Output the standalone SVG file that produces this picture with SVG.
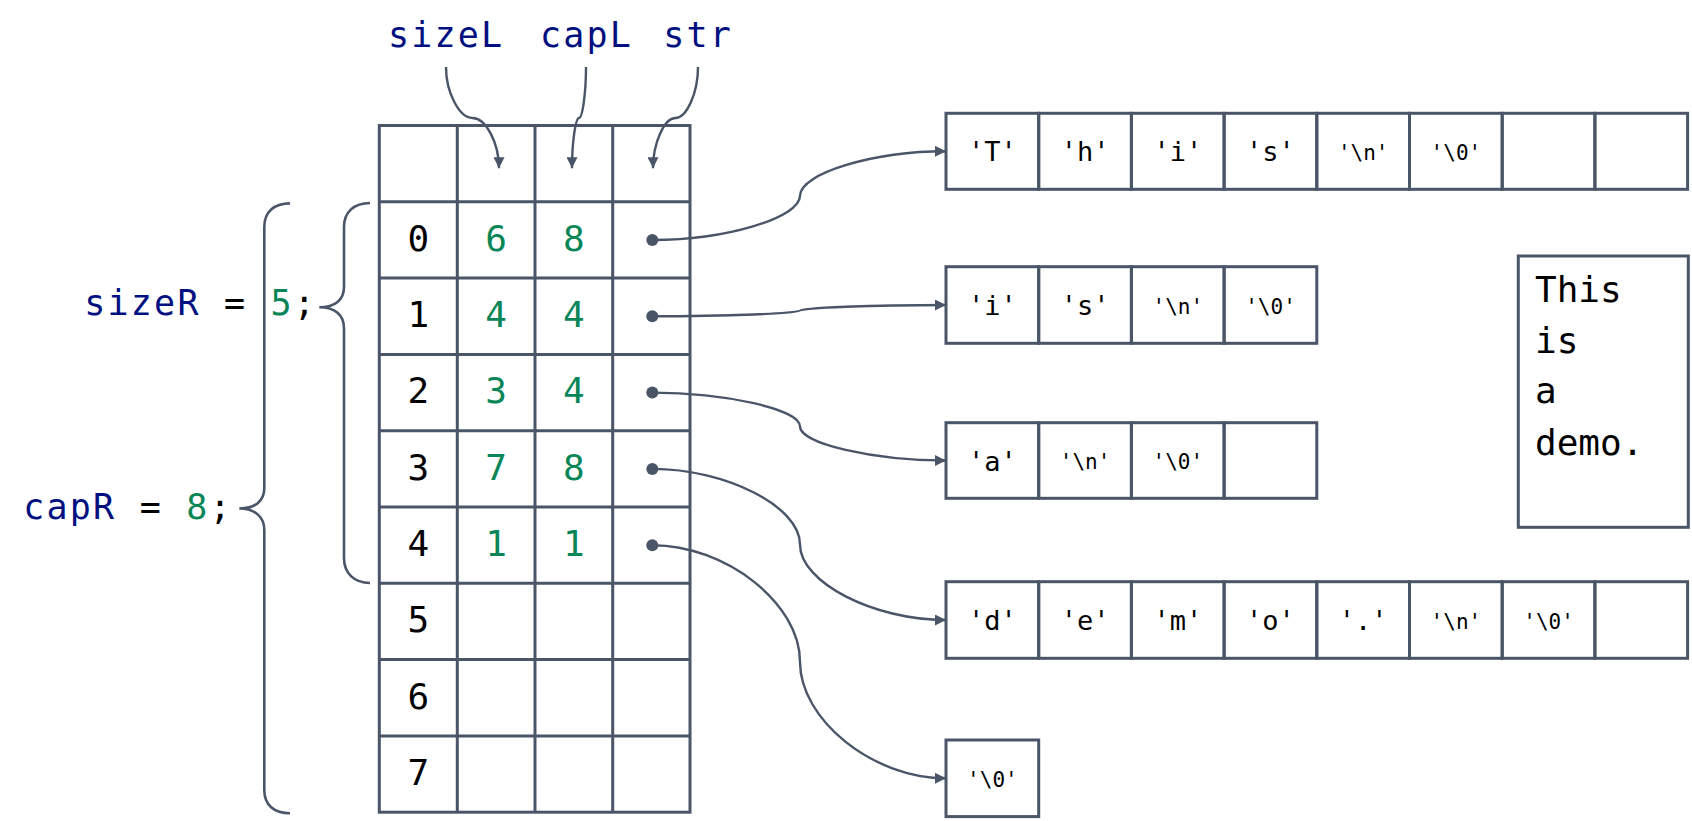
<svg xmlns="http://www.w3.org/2000/svg" width="1692" height="821" viewBox="0 0 1692 821">
<defs>
<style>
.ln{fill:none;stroke:#4a5568;stroke-width:3}
.cell{fill:none;stroke:#4a5568;stroke-width:3}
.br{fill:none;stroke:#4a5568;stroke-width:2.6}
.cn{fill:none;stroke:#4a5568;stroke-width:2.4}
.dot{fill:#4a5568}
.lbl{font-family:"DejaVu Sans Mono","Liberation Mono",monospace;font-size:35px;letter-spacing:2.2px}
.var{fill:#001080}
.num{fill:#098658}
.blk{fill:#000}
.td{font-family:"DejaVu Sans Mono","Liberation Mono",monospace;font-size:36px;text-anchor:middle}
.ch{font-family:"DejaVu Sans Mono","Liberation Mono",monospace;font-size:27px;text-anchor:middle;fill:#000}
.es{font-family:"DejaVu Sans Mono","Liberation Mono",monospace;font-size:21px;text-anchor:middle;fill:#000}
.tb{font-family:"DejaVu Sans Mono","Liberation Mono",monospace;font-size:36px;fill:#000}
</style>
<marker id="ah" viewBox="0 0 11 11" refX="11" refY="5.5" markerWidth="11" markerHeight="11" markerUnits="userSpaceOnUse" orient="auto">
<path d="M0,0 L11,5.5 L0,11 z" fill="#4a5568"/>
</marker>
</defs>
<rect width="1692" height="821" fill="#fff"/>

<g id="labels">
<text class="lbl" x="388" y="46.7" xml:space="preserve"><tspan class="var">sizeL</tspan></text>
<text class="lbl" x="540" y="46.7" xml:space="preserve"><tspan class="var">capL</tspan></text>
<text class="lbl" x="663.2" y="46.7" xml:space="preserve"><tspan class="var">str</tspan></text>
<text class="lbl" x="84.3" y="315" xml:space="preserve"><tspan class="var">sizeR</tspan><tspan class="blk"> = </tspan><tspan class="num">5</tspan><tspan class="blk">;</tspan></text>
<text class="lbl" x="23.3" y="519.3" xml:space="preserve"><tspan class="var">capR</tspan><tspan class="blk"> = </tspan><tspan class="num">8</tspan><tspan class="blk">;</tspan></text>
</g>

<g id="braces">
<path class="br" d="M370,203 C354,203 344,212 344,227 L344,287 C344,300 335,307.3 319.3,307.3 C335,307.3 344,315 344,328.5 L344,558 C344,573 354,583 370,583"/>
<path class="br" d="M290,203.4 C274,203.4 264.3,212 264.3,227 L264.3,488.3 C264.3,501 255,508.5 239.3,508.5 C255,508.5 264.3,517 264.3,530 L264.3,790 C264.3,805 274,813.3 290,813.3"/>
</g>

<g id="table">
<rect class="ln" x="379.3" y="125.5" width="310.7" height="686.7"/>
<path class="ln" d="M457.3,125.5V812.2 M535,125.5V812.2 M612.7,125.5V812.2 M379.3,201.8H690 M379.3,278.1H690 M379.3,354.4H690 M379.3,430.7H690 M379.3,507H690 M379.3,583.3H690 M379.3,659.6H690 M379.3,735.9H690"/>
<g class="td">
<text x="418.3" y="250.7" class="blk">0</text>
<text x="418.3" y="327" class="blk">1</text>
<text x="418.3" y="403.3" class="blk">2</text>
<text x="418.3" y="479.6" class="blk">3</text>
<text x="418.3" y="555.9" class="blk">4</text>
<text x="418.3" y="632.2" class="blk">5</text>
<text x="418.3" y="708.5" class="blk">6</text>
<text x="418.3" y="784.8" class="blk">7</text>
<text x="496.2" y="250.7" class="num">6</text>
<text x="573.8" y="250.7" class="num">8</text>
<text x="496.2" y="327" class="num">4</text>
<text x="573.8" y="327" class="num">4</text>
<text x="496.2" y="403.3" class="num">3</text>
<text x="573.8" y="403.3" class="num">4</text>
<text x="496.2" y="479.6" class="num">7</text>
<text x="573.8" y="479.6" class="num">8</text>
<text x="496.2" y="555.9" class="num">1</text>
<text x="573.8" y="555.9" class="num">1</text>
</g>
<circle class="dot" cx="652.3" cy="240" r="6"/>
<circle class="dot" cx="652.3" cy="316.3" r="6"/>
<circle class="dot" cx="652.3" cy="392.6" r="6"/>
<circle class="dot" cx="652.3" cy="468.9" r="6"/>
<circle class="dot" cx="652.3" cy="545.2" r="6"/>
</g>

<g id="array1">
<rect class="cell" x="946" y="113.3" width="92.7" height="76"/>
<rect class="cell" x="1038.7" y="113.3" width="92.7" height="76"/>
<rect class="cell" x="1131.4" y="113.3" width="92.7" height="76"/>
<rect class="cell" x="1224.1" y="113.3" width="92.7" height="76"/>
<rect class="cell" x="1316.8" y="113.3" width="92.7" height="76"/>
<rect class="cell" x="1409.5" y="113.3" width="92.7" height="76"/>
<rect class="cell" x="1502.2" y="113.3" width="92.7" height="76"/>
<rect class="cell" x="1594.9" y="113.3" width="92.7" height="76"/>
<text class="ch" x="992.4" y="161.3">'T'</text>
<text class="ch" x="1085.1" y="161.3">'h'</text>
<text class="ch" x="1177.8" y="161.3">'i'</text>
<text class="ch" x="1270.5" y="161.3">'s'</text>
<text class="es" x="1363.2" y="159.8">'\n'</text>
<text class="es" x="1455.9" y="159.8">'\0'</text>
</g>

<g id="array2">
<rect class="cell" x="946" y="266.7" width="92.7" height="76.6"/>
<rect class="cell" x="1038.7" y="266.7" width="92.7" height="76.6"/>
<rect class="cell" x="1131.4" y="266.7" width="92.7" height="76.6"/>
<rect class="cell" x="1224.1" y="266.7" width="92.7" height="76.6"/>
<text class="ch" x="992.4" y="315">'i'</text>
<text class="ch" x="1085.1" y="315">'s'</text>
<text class="es" x="1177.8" y="313.5">'\n'</text>
<text class="es" x="1270.5" y="313.5">'\0'</text>
</g>

<g id="array3">
<rect class="cell" x="946" y="422.7" width="92.7" height="75.6"/>
<rect class="cell" x="1038.7" y="422.7" width="92.7" height="75.6"/>
<rect class="cell" x="1131.4" y="422.7" width="92.7" height="75.6"/>
<rect class="cell" x="1224.1" y="422.7" width="92.7" height="75.6"/>
<text class="ch" x="992.4" y="470.5">'a'</text>
<text class="es" x="1085.1" y="469">'\n'</text>
<text class="es" x="1177.8" y="469">'\0'</text>
</g>

<g id="array4">
<rect class="cell" x="946" y="581.7" width="92.7" height="76.6"/>
<rect class="cell" x="1038.7" y="581.7" width="92.7" height="76.6"/>
<rect class="cell" x="1131.4" y="581.7" width="92.7" height="76.6"/>
<rect class="cell" x="1224.1" y="581.7" width="92.7" height="76.6"/>
<rect class="cell" x="1316.8" y="581.7" width="92.7" height="76.6"/>
<rect class="cell" x="1409.5" y="581.7" width="92.7" height="76.6"/>
<rect class="cell" x="1502.2" y="581.7" width="92.7" height="76.6"/>
<rect class="cell" x="1594.9" y="581.7" width="92.7" height="76.6"/>
<text class="ch" x="992.4" y="630">'d'</text>
<text class="ch" x="1085.1" y="630">'e'</text>
<text class="ch" x="1177.8" y="630">'m'</text>
<text class="ch" x="1270.5" y="630">'o'</text>
<text class="ch" x="1363.2" y="630">'.'</text>
<text class="es" x="1455.9" y="628.5">'\n'</text>
<text class="es" x="1548.6" y="628.5">'\0'</text>
</g>

<g id="array5">
<rect class="cell" x="946" y="740" width="92.7" height="76.6"/>
<text class="es" x="992.4" y="786.8">'\0'</text>
</g>

<g id="textbox">
<rect class="cell" x="1518.3" y="256" width="170" height="271.3"/>
<text class="tb" x="1535" y="301.7">This</text>
<text class="tb" x="1535" y="352.7">is</text>
<text class="tb" x="1535" y="403">a</text>
<text class="tb" x="1535" y="455">demo.</text>
</g>

<g id="connectors" class="cn">
<path class="cn" marker-end="url(#ah)" d="M446,67 C446,92.5 459.3,118 472.5,118 C485.8,118 499,143 499,168.3"/>
<path class="cn" marker-end="url(#ah)" d="M586,67 C586,92.5 582.5,118 579,118 C575.5,118 572,143 572,168.3"/>
<path class="cn" marker-end="url(#ah)" d="M698,67 C698,92.5 686.8,118 675.5,118 C664.3,118 653,143 653,168.3"/>
<path class="cn" marker-end="url(#ah)" d="M652.3,240 C726,240 800,217.8 800,195.7 C800,173.5 873,151.3 946,151.3"/>
<path class="cn" marker-end="url(#ah)" d="M652.3,316.3 C726,316.3 800,313.4 800,310.6 C800,307.8 873,305 946,305"/>
<path class="cn" marker-end="url(#ah)" d="M652.3,392.6 C726,392.6 800,409.5 800,426.5 C800,443.5 873,460.5 946,460.5"/>
<path class="cn" marker-end="url(#ah)" d="M652.3,468.9 C726,468.9 800,506.6 800,544.4 C800,582.2 873,620 946,620"/>
<path class="cn" marker-end="url(#ah)" d="M652.3,545.2 C726,545.2 800,603.5 800,661.7 C800,720 873,778.3 946,778.3"/>
</g>
</svg>
